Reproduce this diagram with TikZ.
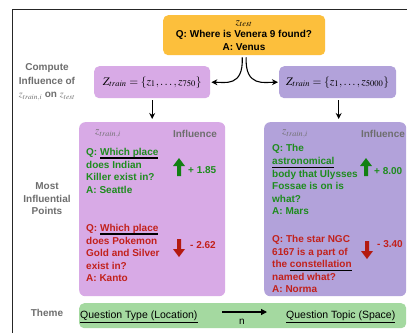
\documentclass[tikz,border=0pt]{standalone}
\usepackage{mathptmx}
\usepackage[no-math]{fontspec}
\setmainfont{Liberation Sans}
\usetikzlibrary{arrows.meta}
\definecolor{orangebox}{HTML}{FCBF3C}
\definecolor{pinkbox}{HTML}{D8AAE6}
\definecolor{purplebox}{HTML}{B2A2DA}
\definecolor{greenbox}{HTML}{A4D9A0}
\definecolor{gtext}{HTML}{1E8C1E}
\definecolor{rtext}{HTML}{C2211B}
\definecolor{garr}{HTML}{128012}
\definecolor{rarr}{HTML}{B41A10}
\definecolor{graytext}{HTML}{6E6E6E}
\newcommand\blkul[1]{\setbox0\hbox{#1}\rlap{\color{black}\rule[-3.1pt]{\wd0}{1.1pt}}\box0}
\newcommand\thul[1]{\setbox0\hbox{#1}\rlap{\color{black}\rule[-5.2pt]{\wd0}{1.3pt}}\box0}
\tikzset{
  box/.style={rounded corners=6pt, inner sep=0pt, draw=none, anchor=north west},
  txt/.style={inner sep=0pt, align=left, anchor=north west},
  arr/.style={-{Stealth[length=6pt,width=6pt]}, line width=1.1pt, black},
  uparr/.pic={\fill (-2,0) -- (-2,-10) -- (-6,-10) -- (0,-18) -- (6,-10) -- (2,-10) -- (2,0) -- cycle;},
  downarr/.pic={\fill (-2,0) -- (-2,10) -- (-6,10) -- (0,18) -- (6,10) -- (2,10) -- (2,0) -- cycle;},
  sidelabel/.style={inner sep=0pt, align=center, text=graytext},
}
\begin{document}
\begin{tikzpicture}[x=1pt,y=-1pt,font=\bfseries\fontsize{10}{12.6}\selectfont]
\useasboundingbox (0,0) rectangle (407,333);
\fill[white] (0,0) rectangle (407,333);
% frame
\draw[line width=0.9pt, black!85] (12.3,333) -- (12.3,9.3) -- (407,9.3);

% boxes
\node[box, fill=orangebox, rounded corners=5pt, minimum width=162pt, minimum height=40pt] (test) at (163,15) {};
\node[box, fill=pinkbox, rounded corners=5pt, minimum width=116pt, minimum height=32pt] (zl) at (94,66) {};
\node[box, fill=purplebox, rounded corners=5pt, minimum width=117pt, minimum height=32pt] (zr) at (279,66) {};
\node[box, fill=pinkbox, minimum width=146pt, minimum height=174pt] (bl) at (79,122) {};
\node[box, fill=purplebox, minimum width=142pt, minimum height=174pt] (br) at (264,122) {};
\node[box, fill=greenbox, rounded corners=5pt, minimum width=327pt, minimum height=25pt] (th) at (79,303) {};

% top text
\node[inner sep=0pt, align=center] (testtxt) at (244,35.5) {{\fontsize{11}{12.6}\selectfont$z_{test}$}\\Q: Where is Venera 9 found?\\A: Venus};
\node[inner sep=0pt, font=\fontsize{11.5}{13}\selectfont] (zltxt) at (zl) {$Z_{train}=\{z_1,\ldots,z_{750}\}$};
\node[inner sep=0pt, font=\fontsize{11.5}{13}\selectfont] (zrtxt) at (zr) {$Z_{train}=\{z_1,\ldots,z_{5000}\}$};

% connectors
\draw[arr] ([xshift=-2pt,yshift=-2pt]test.south) .. controls +(1.5,30) and +(13,0) .. ([xshift=1pt]zl.east);
\draw[arr] ([xshift=2pt,yshift=-2pt]test.south) .. controls +(-1.5,30) and +(-13,0) .. ([xshift=-1pt]zr.west);
\draw[arr, shorten <=2pt, shorten >=3pt] (zl.south) -- (zl.south |- bl.north);
\draw[arr, shorten <=2pt, shorten >=3pt] ([xshift=1pt]zr.south) -- ([xshift=1pt]zr.south |- br.north);

% side labels
\node[sidelabel, font=\bfseries\fontsize{10}{13.5}\selectfont] (lab1) at (47,82) {Compute\\Influence of\\$z_{train,i}$ on $z_{test}$};
\node[sidelabel] (lab2) at (47,199) {Most\\Influential\\Points};
\node[sidelabel] (lab3) at (47,313) {Theme};

% left big box
\node[inner sep=0pt, text=graytext, font=\fontsize{11}{12}\selectfont] (zil) at (108,134) {$z_{train,i}$};
\node[inner sep=0pt, text=graytext] (infl) at (195,134) {Influence};
\node[txt, text=gtext] (lg) at (86,148) {Q: \blkul{Which place}\\does Indian\\Killer exist in?\\A: Seattle};
\node[txt, text=rtext] (lr) at (86,224) {Q: \blkul{Which place}\\does Pokemon\\Gold and Silver\\exist in?\\A: Kanto};
\pic[color=garr] at (179,176) {uparr};
\pic[color=rarr] at (179,239) {downarr};
\node[inner sep=0pt, anchor=west, text=gtext] (lv1) at (188,170) {+ 1.85};
\node[inner sep=0pt, anchor=west, text=rtext] (lv2) at (190,245) {- 2.62};

% right big box
\node[inner sep=0pt, text=graytext, font=\fontsize{11}{12}\selectfont] (zir) at (295,134) {$z_{train,i}$};
\node[inner sep=0pt, text=graytext] (infr) at (383,134) {Influence};
\node[txt, text=gtext] (rg) at (272,144.5) {Q: The\\\blkul{astronomical}\\body that Ulysses\\Fossae is on is\\what?\\A: Mars};
\node[txt, text=rtext] (rr) at (272,235) {Q: The star NGC\\6167 is a part of\\the \blkul{constellation}\\named what?\\A: Norma};
\pic[color=garr] at (366,176) {uparr};
\pic[color=rarr] at (367,241) {downarr};
\node[inner sep=0pt, anchor=west, text=gtext] (rv1) at (374,171) {+ 8.00};
\node[inner sep=0pt, anchor=west, text=rtext] (rv2) at (377,244) {- 3.40};

% theme
\node[inner sep=0pt, anchor=base west, font=\mdseries\fontsize{10.5}{12}\selectfont] (q1) at (80,318) {\thul{Question Type (Location)}};
\node[inner sep=0pt, anchor=base west, font=\mdseries\fontsize{10.5}{12}\selectfont] (q2) at (286,318) {\thul{Question Topic (Space)}};
\coordinate (ta) at (222,312);
\coordinate (tb) at (267,312);
\draw[-{Triangle[length=6pt,width=6pt]}, line width=1.2pt] (ta) -- (tb);
\node[inner sep=0pt, font=\mdseries\fontsize{10}{12}\selectfont] (nlab) at (242,321.5) {n};
\end{tikzpicture}
\end{document}
